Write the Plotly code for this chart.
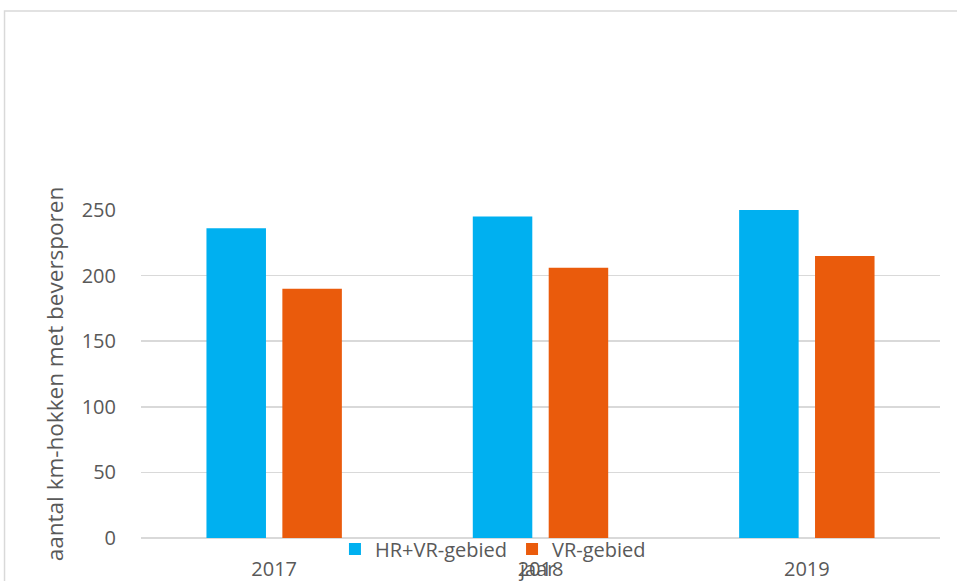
import plotly.graph_objects as go

years = ["2017", "2018", "2019"]
hr_vr = [236, 245, 251]
vr = [190, 206, 215]
series_names = ["HR+VR-gebied", "VR-gebied"]
y_ticks = [0, 50, 100, 150, 200, 250]

font_fam = "Open Sans, Liberation Sans, sans-serif"
txt = "#595959"

fig = go.Figure()
fig.add_trace(go.Bar(x=years, y=hr_vr, name=series_names[0], marker_color="#00B0F0", marker_line_width=0))
fig.add_trace(go.Bar(x=years, y=vr, name=series_names[1], marker_color="#EA5B0C", marker_line_width=0))

fig.update_layout(
    width=957, height=581,
    margin=dict(l=141, r=17, t=210, b=43, autoexpand=False),
    paper_bgcolor="white", plot_bgcolor="white",
    barmode="group", bargap=0.43, bargroupgap=0.216,
    font=dict(family=font_fam, size=20, color=txt),
    showlegend=True,
    legend=dict(orientation="h", x=0.4405, xanchor="center", y=-0.0335, yanchor="middle",
                font=dict(size=20, color=txt), itemwidth=30, bgcolor="rgba(0,0,0,0)",
                traceorder="normal"),
    xaxis=dict(
        showgrid=False, showline=False, zeroline=False, automargin=False,
        ticks="outside", ticklen=13, tickcolor="rgba(0,0,0,0)",
        tickfont=dict(size=20, color=txt),
    ),
    yaxis=dict(
        range=[0, 250], tickvals=y_ticks, automargin=False,
        showgrid=True, gridcolor="#d9d9d9", gridwidth=1.5,
        zeroline=True, zerolinecolor="#d9d9d9", zerolinewidth=1.5,
        showline=False,
        ticks="outside", ticklen=20, tickcolor="rgba(0,0,0,0)",
        tickfont=dict(size=20, color=txt),
        title=dict(text="aantal km-hokken met beversporen", font=dict(size=22.5, color=txt), standoff=11),
    ),
    annotations=[dict(text="jaar", xref="paper", yref="paper", x=0.4956, y=-0.0915,
                      xanchor="center", yanchor="middle", showarrow=False,
                      font=dict(size=20, color=txt))],
    shapes=[dict(type="rect", xref="paper", yref="paper",
                 x0=-0.1708, x1=1.03, y0=-0.2, y1=1.6067,
                 line=dict(color="#d9d9d9", width=1.5), fillcolor="rgba(0,0,0,0)", layer="below")],
)

fig.write_html("out.html",
               config={"displayModeBar": False, "staticPlot": True},
               post_script="document.body.style.margin='0';document.body.style.overflow='hidden';")
